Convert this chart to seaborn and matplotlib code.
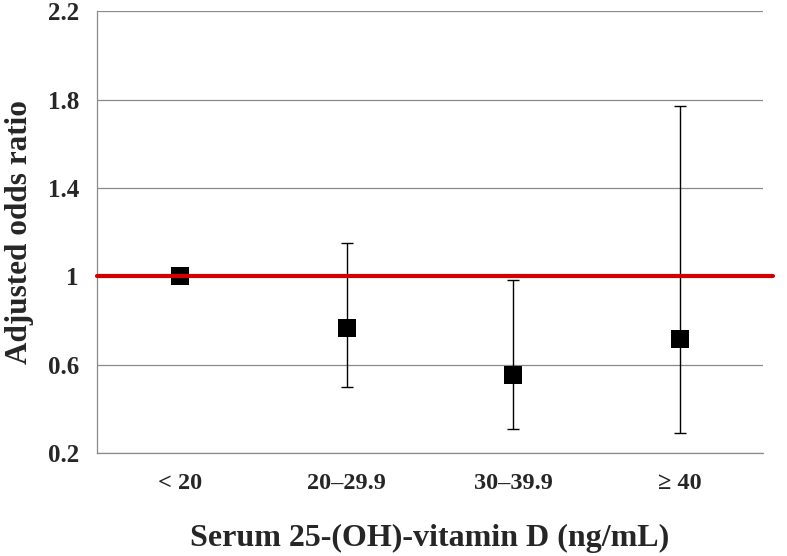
import numpy as np
import pandas as pd
import matplotlib
matplotlib.use("Agg")
import matplotlib.pyplot as plt
from matplotlib.ticker import FixedLocator
import seaborn as sns

# values
categories = ["< 20", "20–29.9", "30–39.9", "≥ 40"]
odds_ratio = [1.0, 0.765, 0.555, 0.717]
ci_lower = [np.nan, 0.50, 0.31, 0.29]
ci_upper = [np.nan, 1.15, 0.984, 1.772]
y_ticks = [0.2, 0.6, 1.0, 1.4, 1.8, 2.2]
y_tick_labels = ["0.2", "0.6", "1", "1.4", "1.8", "2.2"]
reference_value = 1.0

sns.set_style("white")
plt.rcParams['font.family'] = ['Liberation Serif', 'DejaVu Serif']
plt.rcParams['font.weight'] = 'bold'

df = pd.DataFrame({
    "group": categories,
    "pos": np.arange(len(categories)),
    "odds": odds_ratio,
    "lo": ci_lower,
    "hi": ci_upper,
})

fig = plt.figure(figsize=(7.87, 5.56), dpi=100)
ax = fig.add_axes([0.1233, 0.1847, 0.8462, 0.7953])

# gridlines
for t in y_ticks:
    ax.axhline(t, color="#8a8a8a", lw=0.9, zorder=1)

# confidence intervals
ci = df.dropna()
ax.errorbar(ci["pos"], ci["odds"], yerr=[ci["odds"] - ci["lo"], ci["hi"] - ci["odds"]],
            fmt="none", ecolor="black", elinewidth=1.0, capsize=4, capthick=1.0, zorder=3)

# point estimates
sns.scatterplot(data=df, x="pos", y="odds", marker="s", s=170, color="black",
                edgecolor="black", linewidth=0, ax=ax, zorder=4)

# reference line at OR = 1
ax.axhline(reference_value, xmin=0, xmax=1.015, color="#d40000", lw=3,
           clip_on=False, zorder=5)

ax.set_xlim(-0.5, len(categories) - 0.5)
ax.set_ylim(y_ticks[0], y_ticks[-1])

ax.set_yticks(y_ticks)
ax.set_yticklabels(y_tick_labels, fontsize=18, fontweight="bold")
ax.set_xticks(df["pos"])
ax.set_xticklabels(categories, fontsize=17.5, fontweight="bold")
ax.xaxis.set_minor_locator(FixedLocator(np.arange(len(categories) + 1) - 0.5))

ax.tick_params(axis="x", which="major", length=0, pad=14)
ax.tick_params(axis="x", which="minor", length=5, width=0.9, color="#8a8a8a", direction="out")
ax.tick_params(axis="y", length=5, width=0.9, color="#8a8a8a", direction="out", pad=8)

for side in ["top", "right"]:
    ax.spines[side].set_visible(False)
for side in ["left", "bottom"]:
    ax.spines[side].set_color("#8a8a8a")
    ax.spines[side].set_linewidth(0.9)

ax.set_xlabel("Serum 25-(OH)-vitamin D (ng/mL)", fontsize=23, fontweight="bold", labelpad=22)
ax.set_ylabel("Adjusted odds ratio", fontsize=22.5, fontweight="bold", labelpad=10)

fig.savefig("out.png", dpi=100)
